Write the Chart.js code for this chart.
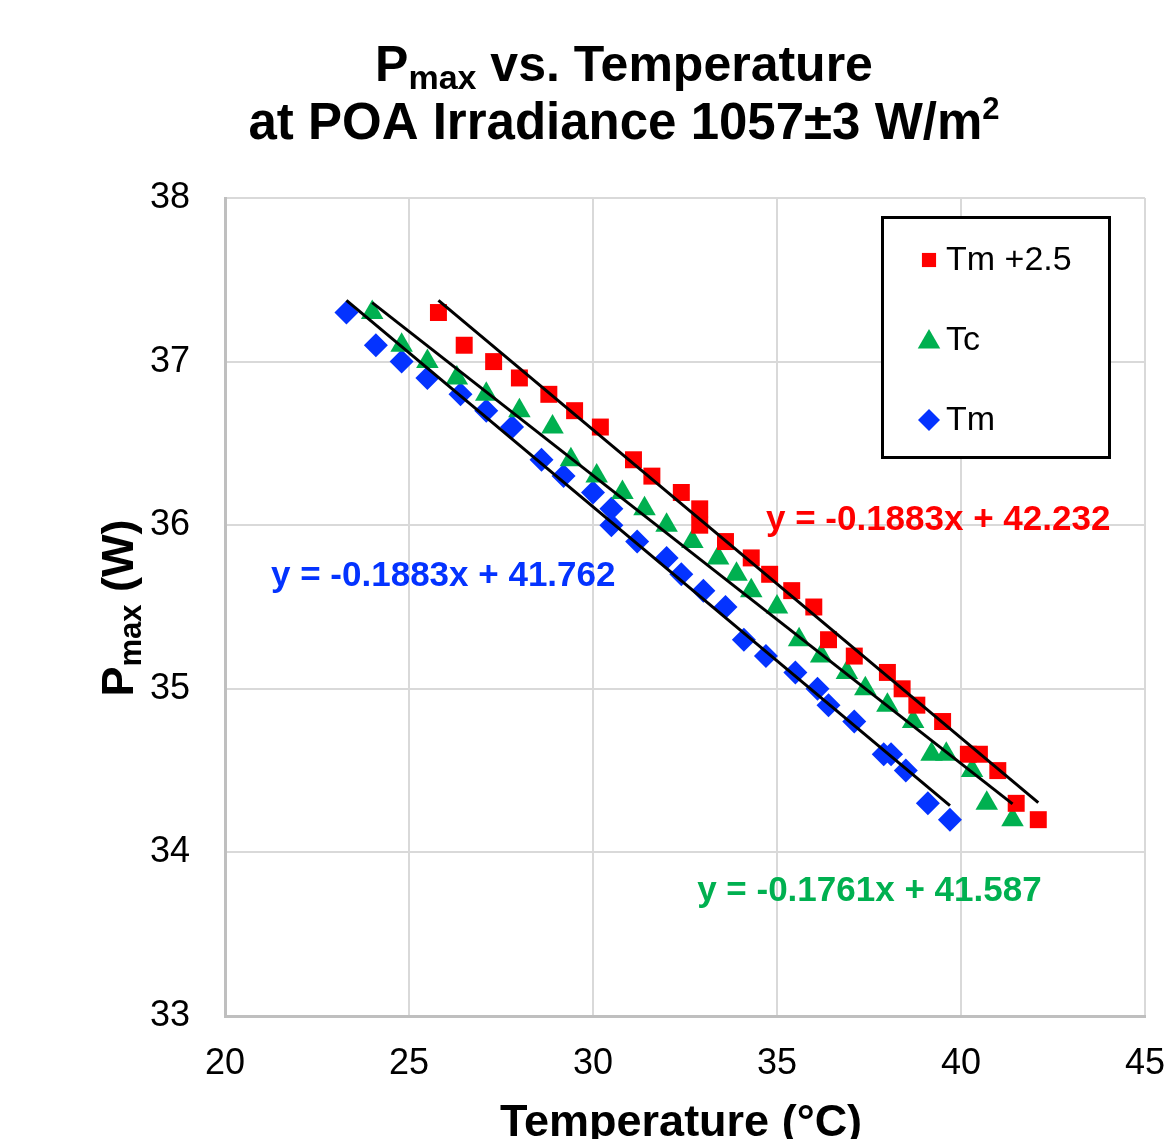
<!DOCTYPE html>
<html>
<head>
<meta charset="utf-8">
<script src="https://cdn.jsdelivr.net/npm/chart.js@4/dist/chart.umd.min.js"></script>
<style>
  html, body { margin: 0; padding: 0; background: #fff; }
  #wrap { width: 1172px; height: 1139px; }
</style>
</head>
<body>
<div id="wrap"><canvas id="pmaxChart" width="1172" height="1139"></canvas></div>
<script>
/* ===============================
   DATA
================================ */
const tmShiftX = [25.8, 26.5, 27.3, 28.0, 28.8, 29.5, 30.2, 31.1, 31.6, 32.4, 32.9, 32.9, 33.6, 34.3,
                  34.8, 35.4, 36.0, 36.4, 37.1, 38.0, 38.4, 38.8, 39.5, 40.2, 40.5, 41.0, 41.5, 42.1];
const tmShiftY = [37.3, 37.1, 37.0, 36.9, 36.8, 36.7, 36.6, 36.4, 36.3, 36.2, 36.1, 36.0, 35.9, 35.8,
                  35.7, 35.6, 35.5, 35.3, 35.2, 35.1, 35.0, 34.9, 34.8, 34.6, 34.6, 34.5, 34.3, 34.2];

const tcX = [24.0, 24.8, 25.5, 26.3, 27.1, 28.0, 28.9, 29.4, 30.1, 30.8, 31.4, 32.0, 32.7, 33.4,
             33.9, 34.3, 35.0, 35.6, 36.2, 36.9, 37.4, 38.0, 38.7, 39.2, 39.6, 40.3, 40.7, 41.4];
const tcY = [37.3, 37.1, 37.0, 36.9, 36.8, 36.7, 36.6, 36.4, 36.3, 36.2, 36.1, 36.0, 35.9, 35.8,
             35.7, 35.6, 35.5, 35.3, 35.2, 35.1, 35.0, 34.9, 34.8, 34.6, 34.6, 34.5, 34.3, 34.2];

const tmX = [23.3, 24.1, 24.8, 25.5, 26.4, 27.1, 27.8, 28.6, 29.2, 30.0, 30.5, 30.5, 31.2, 32.0,
             32.4, 33.0, 33.6, 34.1, 34.7, 35.5, 36.1, 36.4, 37.1, 37.9, 38.1, 38.5, 39.1, 39.7];
const tmY = [37.3, 37.1, 37.0, 36.9, 36.8, 36.7, 36.6, 36.4, 36.3, 36.2, 36.1, 36.0, 35.9, 35.8,
             35.7, 35.6, 35.5, 35.3, 35.2, 35.1, 35.0, 34.9, 34.8, 34.6, 34.6, 34.5, 34.3, 34.2];

// linear trendlines as shown on the chart: [slope, intercept]
const fitShift = [-0.1883, 42.232];
const fitTc = [-0.1761, 41.587];
const fitTm = [-0.1883, 41.762];

const seriesNames = ["Tm +2.5", "Tc", "Tm"];
const xTicks = [20, 25, 30, 35, 40, 45];
const yTicks = [33, 34, 35, 36, 37, 38];

/* ===============================
   HELPERS
================================ */
const FONT = "'Liberation Sans', Arial, sans-serif";
const RED = "#ff0000";
const GREEN = "#00b050";
const BLUE = "#0433ff";

const toPoints = (xs, ys) => xs.map((x, i) => ({ x, y: ys[i] }));

const trendLine = (xs, fit) => {
  const lo = Math.min(...xs);
  const hi = Math.max(...xs);
  return [lo, hi].map(x => ({ x, y: fit[0] * x + fit[1] }));
};

const fmtEq = fit => `y = ${fit[0]}x + ${fit[1]}`;

// draw a run of text pieces: [text, size, dy]
function drawRuns(ctx, runs, x, y, weight, color) {
  ctx.fillStyle = color;
  ctx.textBaseline = "alphabetic";
  ctx.textAlign = "left";
  let cx = x;
  runs.forEach(([txt, size, dy]) => {
    ctx.font = `${weight} ${size}px ${FONT}`;
    ctx.fillText(txt, cx, y + dy);
    cx += ctx.measureText(txt).width;
  });
}

function runsWidth(ctx, runs, weight) {
  let w = 0;
  runs.forEach(([txt, size]) => {
    ctx.font = `${weight} ${size}px ${FONT}`;
    w += ctx.measureText(txt).width;
  });
  return w;
}

function marker(ctx, style, x, y, r, color) {
  ctx.save();
  ctx.fillStyle = color;
  ctx.beginPath();
  if (style === "rect") {
    const s = Math.SQRT1_2 * r;
    ctx.rect(x - s, y - s, 2 * s, 2 * s);
  } else if (style === "triangle") {
    ctx.moveTo(x, y - r);
    ctx.lineTo(x + 0.866 * r, y + r / 2);
    ctx.lineTo(x - 0.866 * r, y + r / 2);
    ctx.closePath();
  } else {
    ctx.moveTo(x - r, y);
    ctx.lineTo(x, y - r);
    ctx.lineTo(x + r, y);
    ctx.lineTo(x, y + r);
    ctx.closePath();
  }
  ctx.fill();
  ctx.restore();
}

/* ===============================
   TEXT + LEGEND PLUGIN
================================ */
const annotations = {
  id: "annotations",
  afterDraw(chart) {
    const ctx = chart.ctx;
    const xs = chart.scales.x;
    const ys = chart.scales.y;

    // title
    const line1 = [["P", 50, 0], ["max", 34, 8], [" vs. Temperature", 50, 0]];
    const line2 = [["at POA Irradiance 1057±3 W/m", 51, 0], ["2", 31, -20]];
    const cx = 624;
    drawRuns(ctx, line1, cx - runsWidth(ctx, line1, "bold") / 2, 81, "bold", "#000");
    drawRuns(ctx, line2, cx - runsWidth(ctx, line2, "bold") / 2, 139, "bold", "#000");

    // x axis title
    ctx.save();
    ctx.font = `bold 45px ${FONT}`;
    ctx.fillStyle = "#000";
    ctx.textAlign = "center";
    ctx.textBaseline = "alphabetic";
    ctx.fillText("Temperature (°C)", 681, 1136);
    ctx.restore();

    // y axis title (rotated)
    ctx.save();
    ctx.translate(133, 608);
    ctx.rotate(-Math.PI / 2);
    const yRuns = [["P", 45, 0], ["max", 31, 8], [" (W)", 45, 0]];
    drawRuns(ctx, yRuns, -runsWidth(ctx, yRuns, "bold") / 2, 0, "bold", "#000");
    ctx.restore();

    // trendline equations
    ctx.save();
    ctx.font = `bold 35px ${FONT}`;
    ctx.textBaseline = "alphabetic";
    ctx.textAlign = "left";
    ctx.fillStyle = RED;
    ctx.fillText(fmtEq(fitShift), xs.getPixelForValue(34.7), ys.getPixelForValue(35.97));
    ctx.fillStyle = BLUE;
    ctx.fillText(fmtEq(fitTm), xs.getPixelForValue(21.25), ys.getPixelForValue(35.63));
    ctx.fillStyle = GREEN;
    ctx.fillText(fmtEq(fitTc), xs.getPixelForValue(32.83), ys.getPixelForValue(33.70));
    ctx.restore();

    // legend box
    ctx.save();
    ctx.fillStyle = "#fff";
    ctx.fillRect(882, 217, 228, 241);
    ctx.strokeStyle = "#000";
    ctx.lineWidth = 3;
    ctx.strokeRect(882.5, 217.5, 227, 240);
    const styles = ["rect", "triangle", "rectRot"];
    const colors = [RED, GREEN, BLUE];
    const radii = [10, 13, 11];
    seriesNames.forEach((name, i) => {
      const my = 260 + i * 80;
      marker(ctx, styles[i], 929, my + (i === 1 ? 2 : 0), radii[i], colors[i]);
      ctx.font = `34px ${FONT}`;
      ctx.fillStyle = "#000";
      ctx.textBaseline = "middle";
      ctx.textAlign = "left";
      ctx.fillText(name, 946, my + 1);
    });
    ctx.restore();
  }
};

/* ===============================
   CHART
================================ */
Chart.defaults.font.family = FONT;

new Chart(document.getElementById("pmaxChart"), {
  type: "scatter",
  data: {
    datasets: [
      { type: "line", data: trendLine(tmShiftX, fitShift), borderColor: "#000", borderWidth: 3, pointRadius: 0, fill: false },
      { type: "line", data: trendLine(tcX, fitTc), borderColor: "#000", borderWidth: 3, pointRadius: 0, fill: false },
      { type: "line", data: trendLine(tmX, fitTm), borderColor: "#000", borderWidth: 3, pointRadius: 0, fill: false },
      { label: seriesNames[0], data: toPoints(tmShiftX, tmShiftY), pointStyle: "rect", pointRadius: 12,
        backgroundColor: RED, borderColor: RED, borderWidth: 0 },
      { label: seriesNames[1], data: toPoints(tcX, tcY), pointStyle: "triangle", pointRadius: 13,
        backgroundColor: GREEN, borderColor: GREEN, borderWidth: 0 },
      { label: seriesNames[2], data: toPoints(tmX, tmY), pointStyle: "rectRot", pointRadius: 12,
        backgroundColor: BLUE, borderColor: BLUE, borderWidth: 0 }
    ]
  },
  options: {
    responsive: false,
    animation: false,
    events: [],
    layout: { padding: { top: 198, right: 27, left: 0, bottom: 0 } },
    plugins: {
      legend: { display: false },
      title: { display: false },
      tooltip: { enabled: false }
    },
    scales: {
      x: {
        type: "linear",
        min: xTicks[0],
        max: xTicks[xTicks.length - 1],
        afterBuildTicks: axis => { axis.ticks = xTicks.map(v => ({ value: v })); },
        grid: { color: "#d9d9d9", lineWidth: 2, drawTicks: false },
        border: { color: "#bfbfbf", width: 3 },
        ticks: { color: "#000", font: { size: 36 }, padding: 26, maxRotation: 0 },
        afterFit: axis => {
          axis.height = 123;
          axis.paddingLeft = 0;
          axis.paddingRight = 0;
        }
      },
      y: {
        type: "linear",
        min: yTicks[0],
        max: yTicks[yTicks.length - 1],
        afterBuildTicks: axis => { axis.ticks = yTicks.map(v => ({ value: v })); },
        grid: { color: "#d9d9d9", lineWidth: 2, drawTicks: false },
        border: { color: "#bfbfbf", width: 3 },
        ticks: { color: "#000", font: { size: 36 }, padding: 35 },
        afterFit: axis => {
          axis.width = 225;
          axis.paddingTop = 0;
          axis.paddingBottom = 0;
        }
      }
    }
  },
  plugins: [annotations]
});
</script>
</body>
</html>
